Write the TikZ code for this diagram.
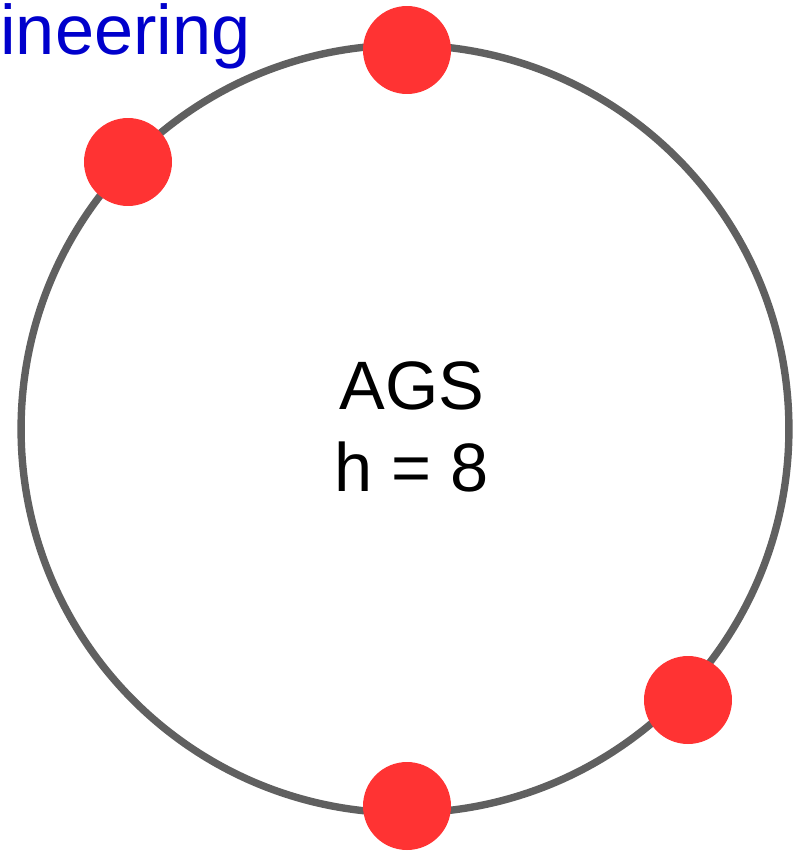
\documentclass[tikz,border=0pt]{standalone}
\usepackage{fontspec}
\setmainfont{Liberation Sans}
\usepackage{tikz}
\usetikzlibrary{positioning}
\definecolor{ringgray}{HTML}{606060}
\definecolor{dotred}{HTML}{FF3333}
\definecolor{titleblue}{HTML}{0000CC}
\tikzset{
  ring/.style={circle, draw=ringgray, line width=4.2pt, minimum size=15.36cm, inner sep=0pt},
  reddot/.style={circle, fill=dotred, minimum size=1.76cm, inner sep=0pt},
}
\begin{document}
\begin{tikzpicture}[x=0.02cm, y=-0.02cm]
  \useasboundingbox (0,0) rectangle (800,853);

  \node[ring] (ring) at (405,429) {};
  \node[align=center, font=\fontsize{39}{46.5}\selectfont] (label) at (412,427) {AGS\\h = 8};

  \node[reddot] (dottop) at (407,50) {};
  \node[reddot] (dotleft) at (128,162) {};
  \node[reddot] (dotright) at (688,700) {};
  \node[reddot] (dotbottom) at (407,806) {};

  \node[anchor=base west, inner sep=0pt, text=titleblue, font=\fontsize{40}{48}\selectfont] (title) at (0,54) {ineering};
\end{tikzpicture}
\end{document}
